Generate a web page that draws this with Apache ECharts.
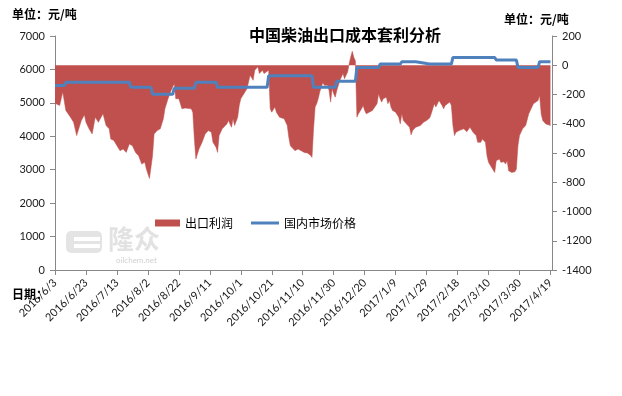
<!DOCTYPE html>
<html><head><meta charset="utf-8">
<script src="https://cdn.jsdelivr.net/npm/echarts@6/dist/echarts.min.js"></script>
<style>html,body{margin:0;padding:0;background:#fff}#c{width:622px;height:396px}</style>
</head><body><div id="c"></div>
<script>
// Categories: calendar days from 2016/6/3 to 2017/4/20 (index = days since start)
var startDate = [2016, 6, 3];
var dayCount = 322;
var labelEvery = 20;

// Export profit (right axis, 元/吨): [day index, value]
var profit = [
[0,-260],[3,-275],[5,-183],[7,-309],[10,-355],[12,-390],[14,-481],[17,-378],[19,-339],[20,-390],
[22,-435],[24,-470],[26,-355],[28,-390],[31,-332],[33,-412],[35,-435],[36,-504],[38,-515],[40,-550],
[42,-584],[44,-573],[46,-596],[48,-538],[50,-550],[52,-596],[54,-619],[56,-676],[58,-664],[59,-710],
[61,-774],[63,-619],[64,-470],[66,-447],[68,-435],[70,-366],[71,-298],[73,-229],[75,-172],[77,-126],
[78,-229],[80,-229],[82,-298],[84,-293],[88,-298],[89,-321],[90,-504],[91,-641],[93,-573],[95,-527],
[97,-470],[99,-447],[101,-458],[102,-527],[104,-561],[105,-596],[106,-481],[108,-435],[111,-401],[112,-378],
[114,-424],[115,-366],[116,-412],[118,-355],[119,-275],[120,-229],[122,-195],[124,-160],[125,-115],[126,-69],
[128,-103],[129,-34],[131,-11],[132,-57],[134,-34],[135,-57],[136,-69],[138,-34],[139,-298],[140,-321],
[142,-286],[143,-321],[145,-355],[146,-344],[148,-366],[149,-366],[150,-412],[151,-493],[152,-550],[155,-584],
[157,-573],[159,-584],[161,-596],[163,-600],[165,-615],[166,-630],[167,-435],[168,-286],[169,-263],[170,-229],
[171,-183],[172,-149],[173,-119],[174,-137],[176,-137],[177,-172],[178,-252],[179,-160],[180,-195],[181,-218],
[182,-172],[184,-103],[185,-80],[186,-57],[187,-92],[188,-69],[189,-46],[190,11],[191,57],[192,96],
[193,55],[194,30],[195,-355],[196,-332],[198,-298],[199,-275],[200,-309],[201,-332],[203,-321],[205,-309],
[206,-298],[208,-263],[209,-195],[210,-229],[211,-252],[212,-229],[213,-241],[214,-218],[215,-263],[216,-241],
[217,-286],[218,-309],[220,-321],[222,-355],[223,-401],[224,-332],[225,-378],[227,-401],[229,-424],[230,-476],
[231,-447],[233,-424],[236,-412],[238,-390],[240,-378],[242,-360],[243,-332],[245,-263],[246,-286],[248,-241],
[250,-275],[251,-298],[252,-275],[253,-286],[255,-252],[256,-275],[257,-412],[258,-481],[259,-458],[261,-447],
[264,-435],[266,-454],[268,-424],[269,-435],[270,-458],[272,-481],[273,-527],[275,-527],[276,-504],[277,-515],
[278,-527],[279,-619],[280,-664],[282,-699],[284,-733],[285,-653],[287,-641],[288,-664],[290,-660],[291,-676],
[292,-653],[293,-722],[295,-733],[297,-729],[298,-710],[299,-550],[300,-481],[302,-435],[304,-412],[305,-401],
[306,-332],[307,-344],[309,-263],[310,-252],[312,-241],[313,-206],[314,-332],[315,-378],[317,-401],[320,-412]
];

// Domestic market price (left axis, 元/吨): [day index, value]
var domestic = [
[0,5520],[6,5520],[7,5615],[48,5615],[49,5465],[62,5465],[63,5255],[76,5255],[77,5435],[90,5435],
[91,5615],[104,5615],[105,5465],[137,5465],[138,5812],[166,5812],[167,5465],[181,5465],[182,5650],[194,5650],
[195,6060],[209,6060],[210,6160],[223,6160],[224,6230],[233,6230],[236,6210],[240,6175],[242,6160],[256,6160],
[257,6360],[284,6360],[285,6280],[298,6280],[299,6060],[312,6060],[313,6230],[320,6230]
];

var leftAxis = {min: 0, max: 7000, interval: 1000};
var rightAxis = {min: -1400, max: 200, interval: 200};

var categories = [];
var t0 = Date.UTC(startDate[0], startDate[1] - 1, startDate[2]);
for (var i = 0; i < dayCount; i++) {
  var d = new Date(t0 + i * 86400000);
  categories.push(d.getUTCFullYear() + '/' + (d.getUTCMonth() + 1) + '/' + d.getUTCDate());
}

var chart = echarts.init(document.getElementById('c'), null, {renderer: 'canvas'});
var axisTxt = {color: '#1a1a1a', fontSize: 11, fontFamily: 'Lato, "Noto Sans CJK SC", sans-serif'};
var plain = function (v) { return String(v); };
chart.setOption({
  animation: false,
  backgroundColor: '#fff',
  title: {
    text: '中国柴油出口成本套利分析', left: 340, top: 22, textAlign: 'center',
    textStyle: {fontSize: 16, fontWeight: 'bold', color: '#000', fontFamily: '"Noto Sans CJK SC", sans-serif'}
  },
  graphic: [
    {type: 'text', left: 12, top: 8, style: {text: '单位：元/吨', fontSize: 12, fontWeight: 'bold', fill: '#000', fontFamily: '"Noto Sans CJK SC", sans-serif'}},
    {type: 'text', left: 504, top: 13, style: {text: '单位：元/吨', fontSize: 12, fontWeight: 'bold', fill: '#000', fontFamily: '"Noto Sans CJK SC", sans-serif'}},
    {type: 'text', left: 12, top: 288, style: {text: '日期：', fontSize: 12, fontWeight: 'bold', fill: '#000', fontFamily: '"Noto Sans CJK SC", sans-serif'}},
    {type: 'rect', shape: {x: 66, y: 231, width: 36, height: 22, r: 5}, style: {fill: '#e4e4e4'}, z: 0},
    {type: 'rect', shape: {x: 74, y: 237, width: 26, height: 4}, style: {fill: '#fff'}, z: 1},
    {type: 'rect', shape: {x: 74, y: 244, width: 26, height: 4}, style: {fill: '#fff'}, z: 1},
    {type: 'text', left: 108, top: 226, style: {text: '隆众', fontSize: 26, fontWeight: 'bold', fill: '#e2e2e2', fontFamily: '"Noto Sans CJK SC", sans-serif'}, z: 0},
    {type: 'text', left: 116, top: 256, style: {text: 'oilchem.net', fontSize: 8, fill: '#d0d0d0', fontFamily: 'Lato, sans-serif'}, z: 0}
  ],
  legend: [
    {data: [{name: '出口利润', icon: 'rect'}], left: 150, top: 212, itemWidth: 25, itemHeight: 7, itemGap: 4,
     textStyle: {fontSize: 12, color: '#000', fontFamily: '"Noto Sans CJK SC", sans-serif'}},
    {data: [{name: '国内市场价格', icon: 'rect'}], left: 246, top: 212, itemWidth: 28, itemHeight: 3,
     textStyle: {fontSize: 12, color: '#000', fontFamily: '"Noto Sans CJK SC", sans-serif'}}
  ],
  grid: {left: 55, right: 70, top: 36, bottom: 126},
  xAxis: {
    type: 'category', data: categories, boundaryGap: false,
    axisLine: {lineStyle: {color: '#888', width: 1}},
    axisTick: {interval: labelEvery - 1, length: 5, lineStyle: {color: '#888'}},
    axisLabel: Object.assign({interval: labelEvery - 1, rotate: 45, margin: 11}, axisTxt),
    splitLine: {show: false}
  },
  yAxis: [
    Object.assign({type: 'value', position: 'left',
      axisLine: {show: true, lineStyle: {color: '#888'}},
      axisTick: {show: true, length: 5, lineStyle: {color: '#888'}},
      axisLabel: Object.assign({margin: 10, formatter: plain}, axisTxt),
      splitLine: {show: false}}, leftAxis),
    Object.assign({type: 'value', position: 'right',
      axisLine: {show: true, lineStyle: {color: '#888'}},
      axisTick: {show: true, length: 5, lineStyle: {color: '#888'}},
      axisLabel: Object.assign({margin: 10, formatter: plain}, axisTxt),
      splitLine: {show: false}}, rightAxis)
  ],
  series: [
    {name: '出口利润', type: 'line', yAxisIndex: 1, data: profit, symbol: 'none',
     lineStyle: {width: 0.5, color: '#C0504D'}, itemStyle: {color: '#C0504D'},
     areaStyle: {color: '#C0504D', opacity: 1}, z: 2},
    {name: '国内市场价格', type: 'line', yAxisIndex: 0, data: domestic, symbol: 'none',
     lineStyle: {width: 3, color: '#4F81BD'}, itemStyle: {color: '#4F81BD'}, z: 3}
  ]
});
</script></body></html>
